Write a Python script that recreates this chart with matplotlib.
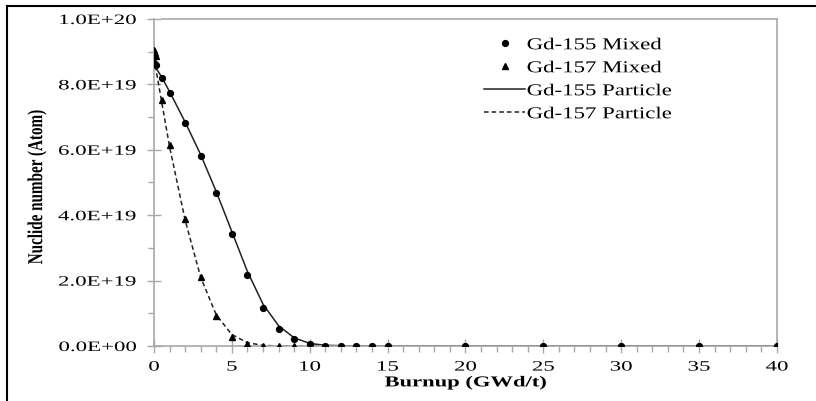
import matplotlib.pyplot as plt
from matplotlib.lines import Line2D
from matplotlib.ticker import MultipleLocator, FuncFormatter
from matplotlib.patheffects import AbstractPathEffect
from matplotlib.transforms import Affine2D
from matplotlib.legend_handler import HandlerLine2D

plt.rcParams['font.family'] = ['Liberation Serif', 'DejaVu Serif']

# burnup grid (GWd/t)
burnup = [0, 0.5, 1, 2, 3, 4, 5, 6, 7, 8, 9, 10, 11, 12, 13, 14, 15, 20, 25, 30, 35, 40]

# Gd-155 mixed (points), in 1e19 atoms
gd155_mixed_x = [0, 0.1] + burnup[1:]
gd155_mixed = [8.65, 8.58, 8.2, 7.74, 6.82, 5.81, 4.68, 3.42, 2.17, 1.16, 0.52, 0.2, 0.05,
               0.01, 0.0, 0.0, 0.0, 0.0, 0.0, 0.0, 0.0, 0.0, 0.0]

# Gd-157 mixed (points)
gd157_mixed_x = [0, 0.05, 0.1] + burnup[1:]
gd157_mixed = [9.05, 8.96, 8.88, 7.52, 6.15, 3.88, 2.11, 0.92, 0.28, 0.06, 0.01, 0.0, 0.0,
               0.0, 0.0, 0.0, 0.0, 0.0, 0.0, 0.0, 0.0, 0.0, 0.0, 0.0]

# particle model (lines)
gd155_particle = [8.6, 8.22, 7.78, 6.85, 5.85, 4.72, 3.5, 2.28, 1.28, 0.62, 0.25, 0.08,
                  0.02, 0.01, 0.0, 0.0, 0.0, 0.0, 0.0, 0.0, 0.0, 0.0]
gd157_particle = [8.8, 7.45, 6.1, 3.85, 2.1, 0.95, 0.35, 0.1, 0.02, 0.0, 0.0, 0.0,
                  0.0, 0.0, 0.0, 0.0, 0.0, 0.0, 0.0, 0.0, 0.0, 0.0]

scale = 1e19


# the reference text is stretched sideways, so widen the glyph paths
class Stretch(AbstractPathEffect):
    def __init__(self, s, anchor='left', axis='x'):
        super().__init__()
        self.s = s
        self.anchor = anchor
        self.axis = axis

    def draw_path(self, renderer, gc, tpath, affine, rgbFace=None):
        ext = tpath.get_extents()
        if self.axis == 'x':
            if self.anchor == 'right':
                c = ext.x1
            elif self.anchor == 'center':
                c = (ext.x0 + ext.x1) / 2
            else:
                c = 0
            t = Affine2D().translate(-c, 0).scale(self.s, 1).translate(c, 0)
        else:
            t = Affine2D().scale(1, self.s)
        renderer.draw_path(gc, tpath, t + affine, rgbFace)


class LeftMarker(HandlerLine2D):
    def get_xdata(self, legend, xdescent, ydescent, width, height, fontsize):
        xd, _ = super().get_xdata(legend, xdescent, ydescent, width, height, fontsize)
        return xd, [0.2 * width - xdescent]


fig = plt.figure(figsize=(8.16, 4.01), dpi=100)
ax = fig.add_axes([0.1887, 0.1372, 0.7633, 0.8154])

m1, = ax.plot(gd155_mixed_x, [v * scale for v in gd155_mixed], 'o', color='black',
              markersize=4.2, linestyle='none', label='Gd-155 Mixed', zorder=3)
m2, = ax.plot(gd157_mixed_x, [v * scale for v in gd157_mixed], '^', color='black',
              markersize=5, linestyle='none', label='Gd-157 Mixed', zorder=3)
ax.plot(burnup, [v * scale for v in gd155_particle], '-', color='#222222',
        linewidth=1.1, label='Gd-155 Particle')
ax.plot(burnup, [v * scale for v in gd157_particle], '--', color='#222222',
        linewidth=1.1, dashes=(3, 2), label='Gd-157 Particle')

ax.set_xlim(0, 40)
ax.set_ylim(0, 1e20)
ax.xaxis.set_major_locator(MultipleLocator(5))
ax.xaxis.set_minor_locator(MultipleLocator(1))
ax.yaxis.set_major_locator(MultipleLocator(2e19))
ax.yaxis.set_minor_locator(MultipleLocator(1e19))


def sci(v, pos):
    if v == 0:
        return '0.0E+00'
    return '%.1E' % v


ax.yaxis.set_major_formatter(FuncFormatter(sci))

gray = '#a8a8a8'
for s in ax.spines.values():
    s.set_color(gray)
    s.set_linewidth(1.2)
ax.spines['top'].set_bounds(0.5, 40)
ax.tick_params(which='major', direction='inout', length=10, color=gray, width=1,
               labelsize=10.3)
ax.tick_params(which='minor', direction='out', length=4, color=gray, width=1)
ax.tick_params(axis='y', which='major', pad=8)
ax.tick_params(axis='x', which='major', pad=5.5)

xl = ax.set_xlabel('Burnup (GWd/t)', fontsize=10.9, fontweight='bold', va='top')
ax.xaxis.set_label_coords(0.5, -0.092)
yl = ax.set_ylabel('Nuclide number (Atom)', fontsize=10.9, fontweight='bold')
ax.yaxis.set_label_coords(-0.1745, 0.485)
xl.set_path_effects([Stretch(1.49, 'center')])
yl.set_path_effects([Stretch(1.4, axis='y')])

leg = ax.legend(loc='upper left', bbox_to_anchor=(0.506, 0.99), frameon=False,
                fontsize=12, handlelength=2.45, handletextpad=0.1, labelspacing=0.42,
                handler_map={m1: LeftMarker(), m2: LeftMarker()})
for t in leg.get_texts():
    t.set_path_effects([Stretch(1.37, 'left')])

# outer frame lines (top and left only)
fig.add_artist(Line2D([7 / 816, 1], [1 - 6 / 401, 1 - 6 / 401], color='black', linewidth=1.5))
fig.add_artist(Line2D([7 / 816, 7 / 816], [0, 1 - 6 / 401], color='black', linewidth=1.5))

fig.canvas.draw()
for t in ax.get_xticklabels():
    t.set_path_effects([Stretch(1.6, 'center')])
for t in ax.get_yticklabels():
    t.set_path_effects([Stretch(1.6, 'right')])

fig.savefig('out.png', dpi=100)
